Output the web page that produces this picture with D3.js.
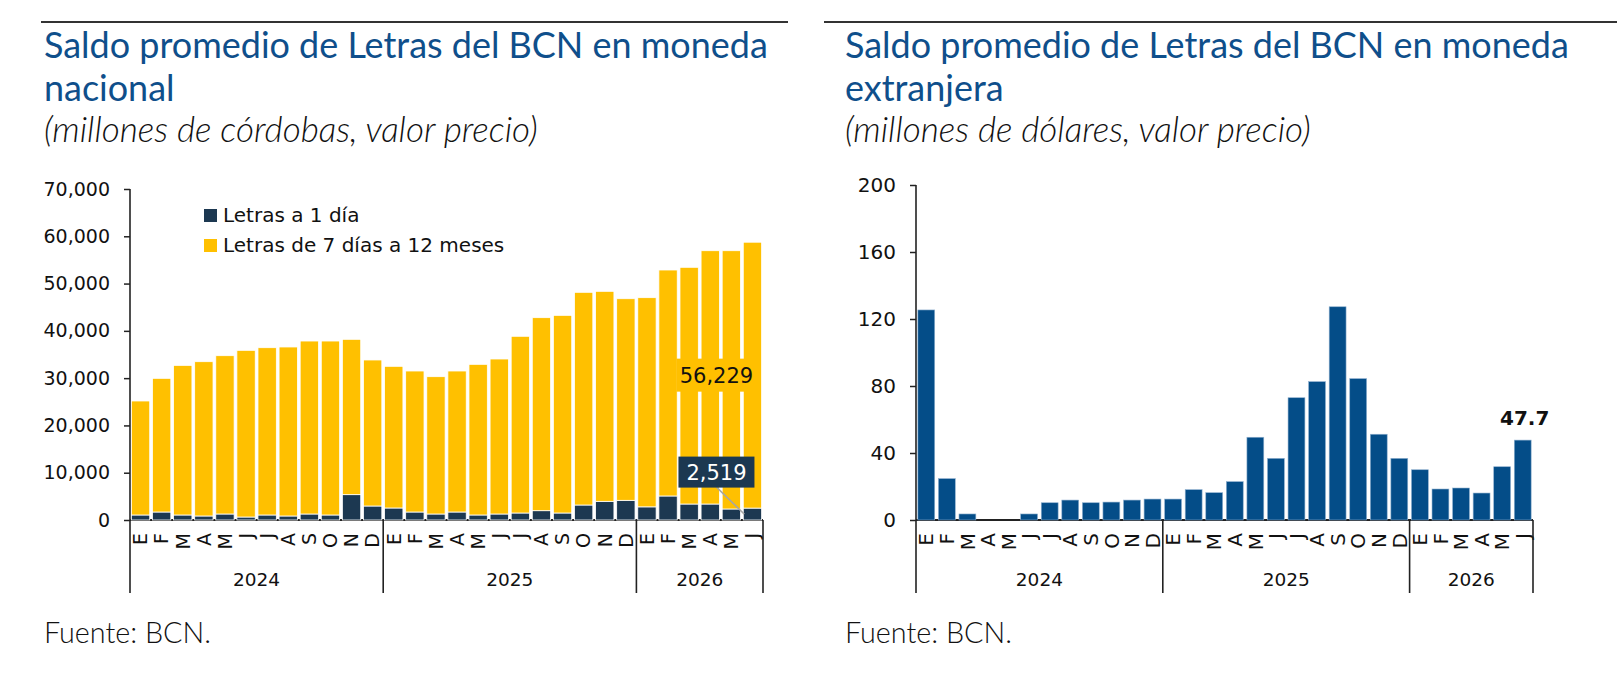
<!DOCTYPE html>
<html>
<head>
<meta charset="utf-8">
<script src="https://cdn.jsdelivr.net/npm/d3@7"></script>
<style>
  body { margin: 0; background: #fff; }
  svg { display: block; }
</style>
</head>
<body>
<div id="chart"></div>
<script>
const months = ["E","F","M","A","M","J","J","A","S","O","N","D",
                "E","F","M","A","M","J","J","A","S","O","N","D",
                "E","F","M","A","M","J"];
const years = ["2024", "2025", "2026"];
const monthsPerYear = [12, 12, 6];

// millones de córdobas
const letrasUnDia = [1060, 1690, 1060, 850, 1270, 630, 1060, 850, 1270, 1060, 5360, 2960,
                     2540, 1690, 1270, 1690, 1060, 1270, 1480, 1970, 1480, 3170, 3950, 4160,
                     2780, 5080, 3380, 3380, 2330, 2519];
const letrasSieteDias = [24110, 28270, 31640, 32630, 33480, 35250, 35380, 35740, 36580, 36790, 32850, 30880,
                         29960, 29820, 29040, 29820, 31860, 32780, 37370, 40820, 41800, 44980, 44410, 42640,
                         44240, 47790, 50060, 53570, 54620, 56229];
// millones de dólares
const letrasDolares = [125.4, 24.7, 3.6, 0, 0, 3.6, 10.3, 11.9, 10.3, 10.7, 11.9, 12.5,
                       12.5, 18.1, 16.3, 22.9, 49.4, 36.8, 73.0, 82.6, 127.3, 84.4, 51.2, 36.8,
                       30.0, 18.5, 19.1, 16.1, 31.8, 47.7];

const leftTicks = [0, 10000, 20000, 30000, 40000, 50000, 60000, 70000];
const rightTicks = [0, 40, 80, 120, 160, 200];

const seriesNames = ["Letras a 1 día", "Letras de 7 días a 12 meses"];
const colNavy = "#1c3851", colYellow = "#ffc000", colBlue = "#044d88", colTitle = "#0f4f8b";
const tickFont = "DejaVu Sans, Verdana, sans-serif";
const titleFont = "Lato, sans-serif";

const svg = d3.select("#chart").append("svg")
    .attr("width", 1622)
    .attr("height", 692);

function fit(sel, w) {
    const fs = parseFloat(sel.style("font-size"));
    sel.style("font-size", (fs * w / sel.node().getComputedTextLength()) + "px");
    return parseFloat(sel.style("font-size"));
}

// Headers
const headers = [
    { x0: 41, x1: 788, tx: 44, l1: "Saldo promedio de Letras del BCN en moneda", l2: "nacional",
      sub: "(millones de córdobas, valor precio)" },
    { x0: 824, x1: 1617, tx: 845, l1: "Saldo promedio de Letras del BCN en moneda", l2: "extranjera",
      sub: "(millones de dólares, valor precio)" }
];
let titleSize = null, subSize = null, srcSize = null;
headers.forEach((h, i) => {
    svg.append("line")
        .attr("x1", h.x0).attr("x2", h.x1)
        .attr("y1", 22).attr("y2", 22)
        .attr("stroke", "#333").attr("stroke-width", 2);
    const t1 = svg.append("text").attr("x", h.tx).attr("y", 58)
        .style("font-family", titleFont).style("font-size", "32px")
        .style("fill", colTitle).text(h.l1);
    if (titleSize === null) titleSize = fit(t1, 724);
    t1.style("font-size", titleSize + "px");
    svg.append("text").attr("x", h.tx).attr("y", 101)
        .style("font-family", titleFont).style("font-size", titleSize + "px")
        .style("fill", colTitle).text(h.l2);
    const s = svg.append("text").attr("x", h.tx).attr("y", 142)
        .style("font-family", titleFont).style("font-size", "24px").style("font-weight", 300)
        .style("font-style", "italic").style("fill", "#111").text(h.sub);
    if (subSize === null) subSize = fit(s, 494);
    s.style("font-size", subSize + "px");
    const f = svg.append("text").attr("x", h.tx).attr("y", 643)
        .style("font-family", titleFont).style("font-size", "24px").style("font-weight", 300)
        .style("fill", "#111").text("Fuente: BCN.");
    if (srcSize === null) srcSize = fit(f, 167);
    f.style("font-size", srcSize + "px");
});

// shared axis frame for both panels
function drawFrame(x, y, ticks, fmt, fs) {
    const g = svg.append("g");
    const x0 = x.range()[0], x1 = x.range()[1], y0 = y(0), yb = 593;

    const ya = g.append("g")
        .attr("transform", `translate(${x0},0)`)
        .call(d3.axisLeft(y).tickValues(ticks).tickFormat(fmt).tickSize(6).tickPadding(14));
    ya.select(".domain").remove();
    ya.selectAll("line").attr("stroke", "#222").attr("stroke-width", 1.5);
    ya.selectAll("text").style("font-family", tickFont).style("font-size", fs + "px").style("fill", "#111");

    const xa = g.append("g")
        .attr("transform", `translate(0,${y0})`)
        .call(d3.axisBottom(x).tickSize(0).tickFormat(i => months[i]));
    xa.select(".domain").remove();
    xa.selectAll("text")
        .attr("transform", "translate(0,13) rotate(-90)")
        .attr("x", 0).attr("y", 0).attr("dy", "0.36em")
        .attr("text-anchor", "end")
        .style("font-family", tickFont).style("font-size", fs + "px").style("fill", "#111");

    // year labels, centred on each year's months
    let start = 0;
    years.forEach((yr, k) => {
        const a = x(start) - x.step() * x.paddingInner() / 2;
        const b = x(start + monthsPerYear[k] - 1) + x.bandwidth() + x.step() * x.paddingInner() / 2;
        g.append("text")
            .attr("x", (a + b) / 2).attr("y", 586)
            .attr("text-anchor", "middle")
            .style("font-family", tickFont).style("font-size", "18.5px").style("fill", "#111")
            .text(yr);
        start += monthsPerYear[k];
    });
    return { g, y0, yb, x0, x1, top: y(ticks[ticks.length - 1]) };
}

function drawLines(fr, x) {
    fr.g.append("line")
        .attr("x1", fr.x0).attr("x2", fr.x0).attr("y1", fr.top).attr("y2", fr.yb)
        .attr("stroke", "#222").attr("stroke-width", 1.6);
    fr.g.append("line")
        .attr("x1", fr.x0).attr("x2", fr.x1).attr("y1", fr.y0).attr("y2", fr.y0)
        .attr("stroke", "#222").attr("stroke-width", 2);
    let start = 0;
    monthsPerYear.forEach(n => {
        start += n;
        const sx = fr.x0 + x.step() * start;
        fr.g.append("line")
            .attr("x1", sx).attr("x2", sx).attr("y1", fr.y0).attr("y2", fr.yb)
            .attr("stroke", "#222").attr("stroke-width", 1.6);
    });
}

// ---------- Left chart ----------
const xL = d3.scaleBand()
    .domain(d3.range(months.length))
    .range([130, 763])
    .paddingInner(0.13)
    .paddingOuter(0.065);
const yL = d3.scaleLinear().domain([0, 70000]).range([520, 189]);

const frL = drawFrame(xL, yL, leftTicks, d3.format(","), 19);

const stackData = letrasUnDia.map((v, i) => ({ i, unDia: v, siete: letrasSieteDias[i] }));
const stacked = d3.stack().keys(["unDia", "siete"])(stackData);
const stackColors = [colNavy, colYellow];

svg.append("g").selectAll("g")
    .data(stacked)
    .join("g")
    .attr("fill", (d, k) => stackColors[k])
    .selectAll("rect")
    .data(d => d)
    .join("rect")
    .attr("x", d => xL(d.data.i))
    .attr("width", xL.bandwidth())
    .attr("y", d => yL(d[1]))
    .attr("height", d => yL(d[0]) - yL(d[1]))
    .attr("stroke", "#fff")
    .attr("stroke-width", 0.8);

drawLines(frL, xL);

// legend
const legend = svg.append("g");
seriesNames.forEach((name, k) => {
    const ly = 209 + k * 30;
    legend.append("rect").attr("x", 204).attr("y", ly).attr("width", 13).attr("height", 13)
        .attr("fill", stackColors[k]);
    legend.append("text").attr("x", 223).attr("y", ly + 13)
        .style("font-family", tickFont).style("font-size", "20px").style("fill", "#111")
        .text(name);
});

// value labels for the last month
const last = months.length - 1;
const lastTop = stacked[1][last];
const cxLab = xL(last) + xL.bandwidth() / 2 - 36;
const cyYellow = (yL(lastTop[0]) + yL(lastTop[1])) / 2;
svg.append("rect").attr("x", cxLab - 40).attr("y", cyYellow - 16.5).attr("width", 80).attr("height", 33)
    .attr("fill", colYellow);
svg.append("text").attr("x", cxLab).attr("y", cyYellow + 8)
    .attr("text-anchor", "middle")
    .style("font-family", tickFont).style("font-size", "21px").style("fill", "#111")
    .text(d3.format(",")(letrasSieteDias[last]));

const cyNavy = yL(letrasUnDia[last]) - 36;
svg.append("line")
    .attr("x1", cxLab).attr("y1", cyNavy + 15)
    .attr("x2", xL(last) + 1).attr("y2", yL(letrasUnDia[last]) + 6)
    .attr("stroke", "#a6a6a6").attr("stroke-width", 1.5);
svg.append("rect").attr("x", cxLab - 38).attr("y", cyNavy - 15.5).attr("width", 76).attr("height", 31)
    .attr("fill", colNavy);
svg.append("text").attr("x", cxLab).attr("y", cyNavy + 8)
    .attr("text-anchor", "middle")
    .style("font-family", tickFont).style("font-size", "21px").style("fill", "#fff")
    .text(d3.format(",")(letrasUnDia[last]));

// ---------- Right chart ----------
const xR = d3.scaleBand()
    .domain(d3.range(months.length))
    .range([916, 1533])
    .paddingInner(0.18)
    .paddingOuter(0.09);
const yR = d3.scaleLinear().domain([0, 200]).range([520, 185]);

const frR = drawFrame(xR, yR, rightTicks, d3.format("d"), 20);

svg.append("g").selectAll("rect")
    .data(letrasDolares)
    .join("rect")
    .attr("x", (d, i) => xR(i))
    .attr("width", xR.bandwidth())
    .attr("y", d => yR(d))
    .attr("height", d => yR(0) - yR(d))
    .attr("fill", colBlue)
    .attr("stroke", "#8fb0cf")
    .attr("stroke-width", 0.6);

drawLines(frR, xR);

svg.append("text")
    .attr("x", xR(last) + xR.bandwidth() / 2 + 2)
    .attr("y", yR(letrasDolares[last]) - 15)
    .attr("text-anchor", "middle")
    .style("font-family", tickFont).style("font-size", "20px").style("font-weight", "bold")
    .style("fill", "#111")
    .text(letrasDolares[last].toFixed(1));
</script>
</body>
</html>
